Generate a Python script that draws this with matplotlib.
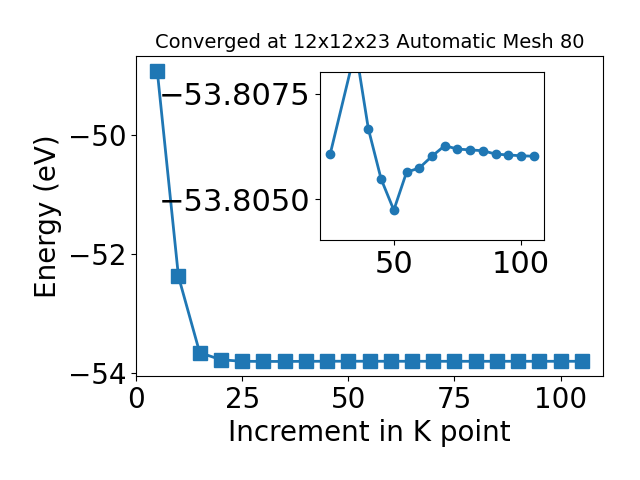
import numpy as np
import matplotlib.pyplot as plt

# k-point increments and total energies (eV)
kpoints = [5, 10, 15, 20, 25, 30, 35, 40, 45, 50, 55, 60, 65, 70, 75, 80, 85, 90, 95, 100, 105]
energy = [-48.92, -52.38, -53.66, -53.78, -53.80607, -53.8083, -53.80857, -53.80667,
          -53.80548, -53.80474, -53.80564, -53.80574, -53.80602, -53.80627, -53.80619,
          -53.80617, -53.80615, -53.80607, -53.80605, -53.80603, -53.80602]

# zoomed-in part
k_zoom = [25, 35, 40, 45, 50, 55, 60, 65, 70, 75, 80, 85, 90, 95, 100, 105]
e_zoom = [-53.80607, -53.80857, -53.80667, -53.80548, -53.80474, -53.80564, -53.80574,
          -53.80602, -53.80627, -53.80619, -53.80617, -53.80615, -53.80607, -53.80605,
          -53.80603, -53.80602]

fig = plt.figure(figsize=(6.4, 4.8), dpi=100)
ax = fig.add_axes([0.2125, 0.2167, 0.7297, 0.6666])
ax.plot(kpoints, energy, "-s", color="tab:blue", linewidth=2, markersize=10)
ax.set_xlabel("Increment in K point", fontsize=20)
ax.set_ylabel("Energy (eV)", fontsize=20)
ax.set_title("Converged at 12x12x23 Automatic Mesh 80", fontsize=14)
ax.tick_params(labelsize=20)
ax.set_xticks([0, 25, 50, 75, 100])
ax.set_yticks([-54, -52, -50])

ins = fig.add_axes([0.5, 0.5, 0.35, 0.35])
ins.plot(k_zoom, e_zoom, "-o", color="tab:blue", linewidth=2, markersize=6)
ins.set_ylim(-53.80403, -53.80802)
ins.set_yticks([-53.8075, -53.8050])
ins.ticklabel_format(axis="y", useOffset=False)
ins.set_xticks([50, 100])
ins.tick_params(labelsize=22)

plt.savefig("out.png")
